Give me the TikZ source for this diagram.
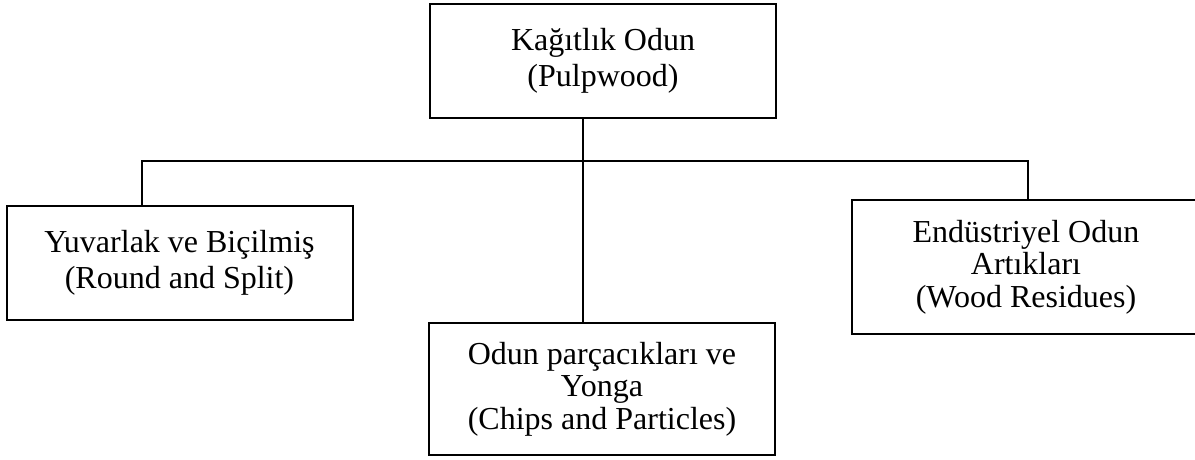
\documentclass[tikz,border=0pt]{standalone}
\usepackage{fontspec}
\setmainfont{Liberation Serif}
\begin{document}
\begin{tikzpicture}[x=1pt,y=-1pt,
  box/.style={draw, line width=2pt, minimum width=346pt, align=center, inner sep=0pt,
    font=\fontsize{32}{36}\selectfont},
  tallbox/.style={box, minimum height=132pt, font=\fontsize{32}{32.5}\selectfont},
  shortbox/.style={box, minimum height=114pt},
  frame/.style={draw, line width=2pt},
  link/.style={draw, line width=2.4pt}]
\useasboundingbox (0,0) rectangle (1195,459);
\node[shortbox] (top) at (603,61) {Kağıtlık Odun\\(Pulpwood)};
\node[shortbox] (left) at (179.5,263) {Yuvarlak ve Biçilmiş\\(Round and Split)};
\node[tallbox, draw=none] (right) at (1026,267) {Endüstriyel Odun\\Artıkları\\(Wood Residues)};
\path[frame] (right.north west) rectangle ([xshift=30pt]right.south east);
\node[tallbox] (bottom) at (602,389) {Odun parçacıkları ve\\Yonga\\(Chips and Particles)};
\coordinate (cj) at (583,161);
\coordinate (lj) at (142,161);
\coordinate (rj) at (1028,161);
\draw[link] (top.south -| cj) -- (bottom.north -| cj);
\draw[link] (left.north -| lj) -- (lj) -- (rj) -- (right.north -| rj);
\end{tikzpicture}
\end{document}
